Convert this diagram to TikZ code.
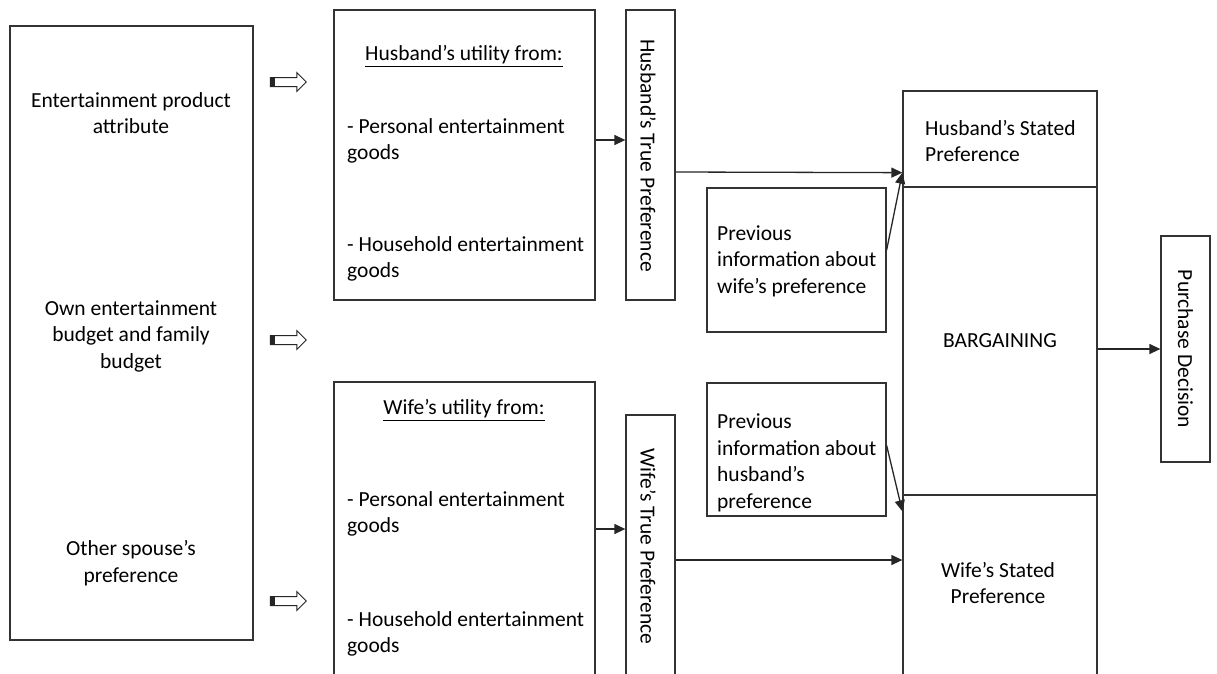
\documentclass[tikz,border=0pt]{standalone}
\usepackage{fontspec}
\setmainfont{Carlito}
\usetikzlibrary{arrows.meta}
\usetikzlibrary{shapes.arrows}

\begin{document}
\begin{tikzpicture}[
    x=1pt, y=-1pt,
    font=\fontsize{21.5}{26.5}\selectfont,
    box/.style={draw=black!80, line width=1.3pt, inner sep=0pt},
    txt/.style={align=left, inner sep=0pt},
    ctxt/.style={align=center, inner sep=0pt},
    vtxt/.style={rotate=-90, inner sep=0pt},
    arr/.style={draw=black!85, line width=1.3pt, -{Triangle[length=11pt,width=10pt]}},
    hollow/.style={single arrow, draw=black!85, line width=1pt, inner sep=4pt,
        single arrow head extend=5pt, minimum height=36pt},
 ]
    \useasboundingbox (0,0) rectangle (1217,673);
    \clip (0,0) rectangle (1217,673);
    \fill[white] (0,0) rectangle (1217,673);

    \node[box, minimum width=243pt, minimum height=614pt] (L) at (131.5,333) {};
    \node[box, minimum width=261pt, minimum height=290pt] (HU) at (464.5,155) {};
    \node[box, minimum width=49pt, minimum height=290pt] (HT) at (650.5,155) {};
    \node[box, minimum width=261pt, minimum height=294pt] (WU) at (464.5,529) {};
    \node[box, minimum width=49pt, minimum height=261pt] (WT) at (650.5,545.5) {};
    \node[box, minimum width=179pt, minimum height=144pt] (PH) at (796.5,260) {};
    \node[box, minimum width=179pt, minimum height=133pt] (PW) at (796.5,449.5) {};
    \node[box, minimum width=194pt, minimum height=96pt] (HS) at (1000,139) {};
    \node[box, minimum width=194pt, minimum height=308pt] (BG) at (1000,341) {BARGAINING};
    \node[box, minimum width=194pt, minimum height=181pt] (WS) at (1000,585.5) {};
    \node[box, minimum width=49pt, minimum height=226pt] (PD) at (1185.5,349) {};

    \node[ctxt] (L1) at (131,113) {Entertainment product\\attribute};
    \node[ctxt] (L2) at (131,336) {Own entertainment\\budget and family\\budget};
    \node[ctxt] (L3) at (131,563) {Other spouse’s\\preference};

    \node (HU0) at (464,56) {\underline{Husband’s utility from:}};
    \node[txt, anchor=west] (HU1) at (347,141) {- Personal entertainment\\goods};
    \node[txt, anchor=west] (HU2) at (347,259) {- Household entertainment\\goods};
    \node[vtxt] (HT0) at (648,155.5) {Husband’s True Preference};

    \node (WU0) at (464,410) {\underline{Wife’s utility from:}};
    \node[txt, anchor=west] (WU1) at (347,514) {- Personal entertainment\\goods};
    \node[txt, anchor=west] (WU2) at (347,634) {- Household entertainment\\goods};
    \node[vtxt] (WT0) at (648,546.5) {Wife’s True Preference};

    \node[txt, anchor=west] (PH0) at (717,261) {Previous\\information about\\wife’s preference};
    \node[txt, anchor=west] (PW0) at (717,463) {Previous\\information about\\husband’s\\preference};
    \node[txt, anchor=west] (HS0) at (925,141) {Husband’s Stated\\Preference};
    \node[ctxt] (WS0) at (998,583) {Wife’s Stated\\Preference};
    \node[rotate=-90] (PD0) at (1185.5,349) {Purchase Decision};

    \foreach \i/\y in {1/82,2/340,3/601} {
        \node[hollow] (A\i) at (286,\y) {};
        \fill[black!85] (A\i.before tail) rectangle ([xshift=5pt]A\i.after tail);
    }

    \draw[arr] ([yshift=15pt]HU.east) -- ([yshift=15pt]HT.west);
    \draw[arr] ([yshift=-17pt]HT.east) -- ([yshift=15pt]HS.south west);
    \draw[arr] ([yshift=10pt]PH.east) -- ([yshift=15pt]HS.south west);
    \draw[arr] ([yshift=4pt]PW.east) -- ([yshift=-17pt]WS.north west);
    \draw[arr] (WU.east) -- (WU.east -| WT.west);
    \draw[arr] ([yshift=-14.5pt]WT.east) coordinate (W1) -- (W1 -| WS.west);
    \draw[arr] (PD.west -| BG.east) -- (PD.west);
\end{tikzpicture}
\end{document}
